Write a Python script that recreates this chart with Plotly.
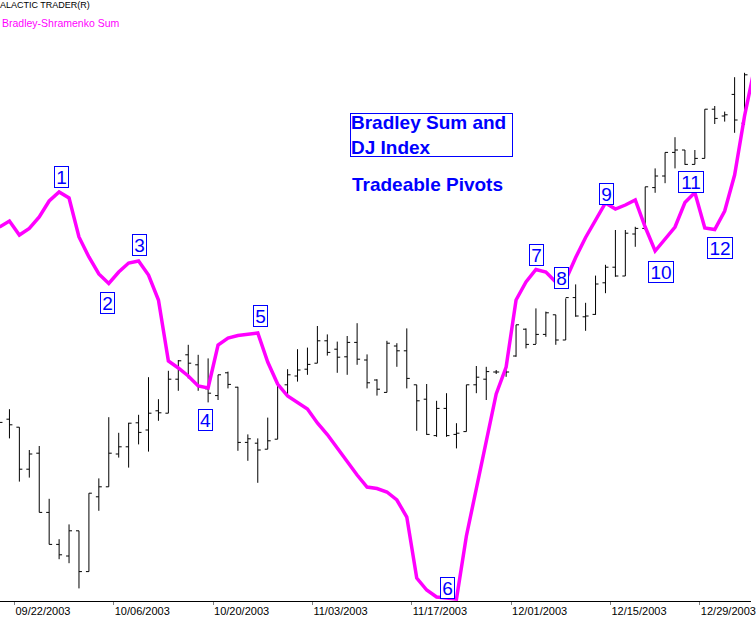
import plotly.graph_objects as go

# ---- data ----
bar_index = list(range(-1, 75))

dj_open = [9650, 9652, 9632, 9527, 9567, 9419, 9339, 9310, 9373, 9271, 9458,
           9483, 9565, 9583, 9643, 9625, 9673, 9667, 9752, 9813, 9788,
           9728, 9711, 9768, 9732, 9594, 9592, 9577, 9602, 9738, 9760,
           9777, 9792, 9848, 9827, 9808, 9844, 9800, 9750, 9719, 9835,
           9823, 9738, 9702, 9611, 9679, 9614, 9621, 9738, 9752, 9770,
           9770, 9810, 9877, 9839, 9864, 9913, 9850, 9956, 9908, 9914,
           9993, 10032, 10010, 10115, 10129, 10231, 10260, 10319, 10325, 10289,
           10304, 10427, 10410, 10464, 10392]
dj_high = [9663, 9677, 9632, 9575, 9585, 9453, 9352, 9389, 9373, 9467, 9504,
           9657, 9618, 9643, 9663, 9757, 9702, 9773, 9800, 9838, 9813,
           9804, 9763, 9771, 9733, 9614, 9604, 9656, 9738, 9777, 9827,
           9831, 9885, 9864, 9846, 9860, 9892, 9814, 9752, 9848, 9842,
           9879, 9738, 9740, 9698, 9717, 9642, 9738, 9785, 9783, 9775,
           9785, 9888, 9879, 9929, 9921, 9913, 9954, 9989, 9943, 10011,
           10038, 10125, 10125, 10133, 10233, 10279, 10319, 10357, 10325, 10325,
           10427, 10435, 10421, 10507, 10518]
dj_low = [9625, 9604, 9496, 9506, 9419, 9339, 9302, 9292, 9229, 9271, 9423,
          9483, 9556, 9531, 9589, 9571, 9648, 9667, 9723, 9754, 9723,
          9694, 9700, 9729, 9573, 9548, 9493, 9577, 9602, 9715, 9746,
          9763, 9792, 9811, 9768, 9763, 9788, 9729, 9711, 9719, 9783,
          9729, 9623, 9613, 9608, 9608, 9579, 9621, 9717, 9700, 9765,
          9758, 9808, 9829, 9840, 9858, 9838, 9850, 9908, 9873, 9913,
          9967, 10008, 10010, 10083, 10125, 10218, 10242, 10279, 10288, 10289,
          10304, 10390, 10396, 10368, 10388]
dj_close = [9644, 9638, 9527, 9565, 9419, 9339, 9313, 9373, 9271, 9467, 9483,
            9567, 9583, 9642, 9619, 9667, 9668, 9752, 9798, 9792, 9733,
            9717, 9763, 9739, 9594, 9603, 9575, 9598, 9735, 9763, 9775,
            9789, 9848, 9819, 9807, 9844, 9802, 9743, 9727, 9842, 9823,
            9754, 9698, 9614, 9679, 9611, 9617, 9738, 9757, 9771, 9770,
            9770, 9888, 9839, 9864, 9918, 9850, 9956, 9910, 9910, 9990,
            10032, 10010, 10117, 10129, 10233, 10260, 10319, 10325, 10289, 10304,
            10427, 10404, 10413, 10400, 10513]

bradley_index = list(range(-1, 76))
bradley_sum = [273, 279, 265, 271.5, 283, 299, 308, 302, 263, 243, 226,
               216.5, 228, 237, 239, 225, 200, 139, 132, 124, 114,
               112, 155, 162, 164.5, 166, 167, 138, 116, 104, 97,
               91, 77, 65.5, 52, 38, 25, 13, 11.5, 8, 0,
               -17, -78, -90, -97, -98, -99, -36, 11, 61, 106,
               133, 200, 218, 230.5, 228, 218, 220, 242.5, 262.5, 279,
               297, 291, 295, 300, 273, 249, 261, 273, 297.5, 307.5,
               272, 270.5, 289, 325, 384, 432]

tick_labels = ["09/22/2003", "10/06/2003", "10/20/2003", "11/03/2003",
               "11/17/2003", "12/01/2003", "12/15/2003", "12/29/2003"]
tick_bar = [0.5, 10.5, 20.5, 30.5, 40.5, 50.5, 60.5, 69.5]

pivot_labels = ["1", "2", "3", "4", "5", "6", "7", "8", "9", "10", "11", "12"]
pivot_x = [5.25, 9.85, 13.05, 19.72, 25.25, 44.05, 53.05, 55.55, 60.15, 65.55, 68.65, 71.5]
pivot_y = [323, 197, 255.5, 80, 184, -88, 245, 222, 306, 228.5, 318.5, 252]

# ---- figure ----
fig = go.Figure()
fig.add_trace(go.Ohlc(
    x=bar_index, open=dj_open, high=dj_high, low=dj_low, close=dj_close,
    increasing=dict(line=dict(color="black", width=1)),
    decreasing=dict(line=dict(color="black", width=1)),
    tickwidth=0.3, showlegend=False, yaxis="y",
))
fig.add_trace(go.Scatter(
    x=bradley_index, y=bradley_sum, mode="lines",
    line=dict(color="#FF00FF", width=3.5), showlegend=False, yaxis="y2",
))

BLUE = "#0000FF"
annotations = []
for lab, px, py in zip(pivot_labels, pivot_x, pivot_y):
    annotations.append(dict(
        x=px, y=py, xref="x", yref="y2", text=lab, showarrow=False,
        font=dict(family="Liberation Sans, Arial", size=19, color=BLUE),
        bordercolor=BLUE, borderwidth=1, borderpad=0, bgcolor="white",
        width=13 if len(lab) == 1 else 24, height=20,
        xanchor="center", yanchor="middle",
    ))
annotations.append(dict(
    x=352.3 / 756, y=(601 - 113.3) / 601, xref="paper", yref="paper",
    text="<b>Bradley Sum and<br>DJ Index</b>", showarrow=False,
    align="left", valign="middle",
    font=dict(family="Liberation Sans, Arial", size=19, color=BLUE),
    bordercolor=BLUE, borderwidth=1, borderpad=0, bgcolor="white",
    width=161, height=42,
    xanchor="left", yanchor="top",
))
annotations.append(dict(
    x=352.5 / 756, y=(601 - 185) / 601, xref="paper", yref="paper",
    text="<b>Tradeable Pivots</b>", showarrow=False, align="left",
    font=dict(family="Liberation Sans, Arial", size=19, color=BLUE),
    xanchor="left", yanchor="middle",
))
annotations.append(dict(
    x=0, y=(601 - 5) / 601, xref="paper", yref="paper",
    text="ALACTIC TRADER(R)", showarrow=False,
    font=dict(family="Liberation Sans, Arial", size=9, color="black"),
    xanchor="left", yanchor="middle", xshift=-2,
))
annotations.append(dict(
    x=0, y=(601 - 23) / 601, xref="paper", yref="paper",
    text="Bradley-Shramenko Sum", showarrow=False,
    font=dict(family="Liberation Sans, Arial", size=10.5, color="#FF00FF"),
    xanchor="left", yanchor="middle",
))

fig.update_layout(
    width=756, height=619,
    margin=dict(l=0, r=0, t=0, b=18),
    paper_bgcolor="white", plot_bgcolor="white",
    showlegend=False,
    xaxis=dict(
        range=[-0.95, 74.65], rangeslider=dict(visible=False),
        showgrid=False, zeroline=False,
        showline=True, linecolor="black", linewidth=1,
        ticks="outside", ticklen=3, tickcolor="#808080",
        tickmode="array", tickvals=tick_bar, ticktext=tick_labels,
        ticklabelposition="outside right", ticklabeloverflow="allow",
        tickfont=dict(family="Liberation Sans, Arial", size=11, color="black"),
    ),
    yaxis=dict(range=[9197.5, 10700], visible=False, showgrid=False, zeroline=False),
    yaxis2=dict(range=[-101, 500], visible=False, overlaying="y", showgrid=False, zeroline=False),
    annotations=annotations,
)

fig.write_html(
    "out.html",
    config={"displayModeBar": False},
    post_script="document.body.style.margin='0px';document.body.style.overflow='hidden';",
)
